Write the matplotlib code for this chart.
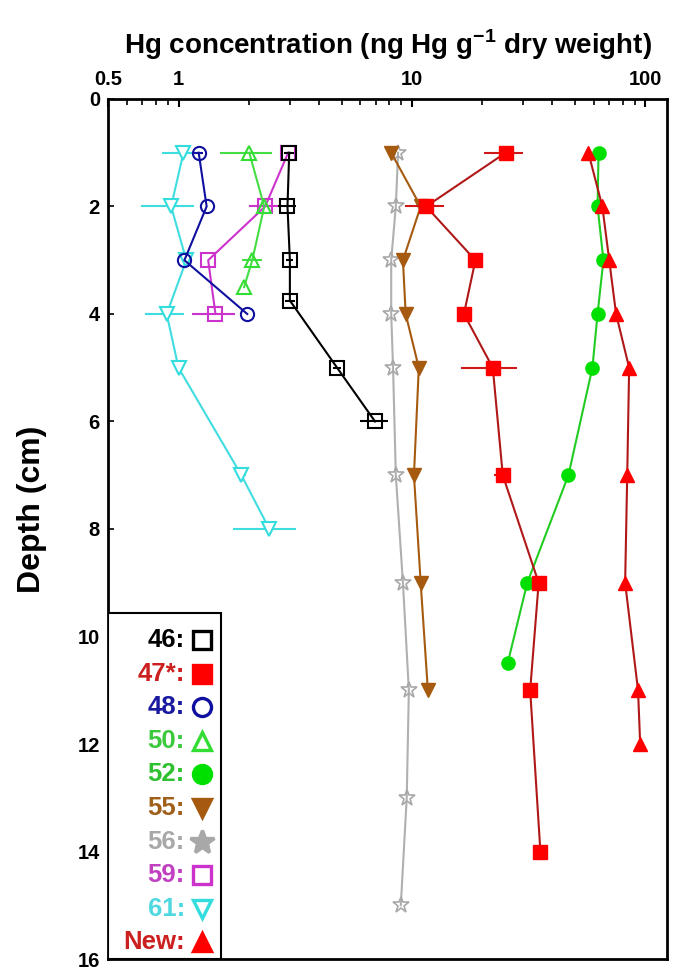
import numpy as np
import matplotlib
matplotlib.use("Agg")
import matplotlib.pyplot as plt
from matplotlib.patches import Rectangle
from matplotlib.ticker import FixedLocator, NullFormatter

plt.rcParams['font.family'] = ['Liberation Sans', 'DejaVu Sans']
plt.rcParams['font.weight'] = 'bold'
plt.rcParams['mathtext.fontset'] = 'custom'
plt.rcParams['mathtext.rm'] = 'Liberation Sans'
plt.rcParams['mathtext.bf'] = 'Liberation Sans:bold'

# core 46
d46 = [1, 2, 3, 3.75, 5, 6]
c46 = [2.98, 2.93, 3.0, 3.0, 4.78, 6.95]
e46 = [0.15, 0.25, 0.1, 0.15, 0.2, 0.95]
# core 47*
d47 = [1, 2, 3, 4, 5, 7, 9, 11, 14]
c47 = [25.2, 11.5, 18.7, 16.7, 22.2, 24.5, 34.9, 32.1, 35.5]
e47 = [4.8, 2.2, 0, 0, 6.0, 2.0, 0, 0, 0]
# core 48
d48 = [1, 2, 3, 4]
c48 = [1.22, 1.32, 1.06, 1.97]
e48 = [0.05, 0, 0, 0]
# core 50
d50 = [1, 2, 3, 3.5]
c50 = [2.01, 2.33, 2.07, 1.91]
e50 = [0.5, 0, 0.2, 0]
# core 52
d52 = [1, 2, 3, 4, 5, 7, 9, 10.5]
c52 = [63.0, 62.4, 66.1, 62.4, 59.3, 46.8, 31.2, 25.7]
# core 55
d55 = [1, 2, 3, 4, 5, 7, 9, 11]
c55 = [8.15, 10.9, 9.15, 9.4, 10.7, 10.2, 10.9, 11.7]
# core 56
d56 = [1, 2, 3, 4, 5, 7, 9, 11, 13, 15]
c56 = [8.72, 8.53, 8.15, 8.15, 8.3, 8.53, 9.15, 9.7, 9.5, 8.96]
# core 59
d59 = [1, 2, 3, 4]
c59 = [2.95, 2.35, 1.34, 1.44]
e59 = [0.05, 0.35, 0, 0.3]
# core 61
d61 = [1, 2, 3, 4, 5, 7, 8]
c61 = [1.05, 0.93, 1.08, 0.89, 1.0, 1.86, 2.45]
e61 = [0.2, 0.24, 0, 0.17, 0, 0.08, 0.73]
# new core
dnew = [1, 2, 3, 4, 5, 7, 9, 11, 12]
cnew = [57.0, 65.4, 70.0, 74.9, 85.2, 83.6, 81.9, 93.0, 95.0]

legend_labels = ['46:', '47*:', '48:', '50:', '52:', '55:', '56:', '59:', '61:', 'New:']
legend_text_colors = ['black', '#CC1F1F', '#1A1AA0', '#3CC83C', '#2EC02E',
                      '#A0601A', '#A8A8A8', '#C040C0', '#50D8E0', '#CC1F1F']
legend_markers = ['s', 's', 'o', '^', 'o', 'v', '*', 's', 'v', '^']
legend_face = ['none', '#FF0000', 'none', 'none', '#00E000', '#A65A10', '#A8A8A8',
               'none', 'none', '#FF0000']
legend_edge = ['black', '#FF0000', '#1010A0', '#33DD33', '#00E000', '#A65A10', '#A8A8A8',
               '#CC33CC', '#33DDDD', '#FF0000']

fig = plt.figure(figsize=(6.85, 9.76), dpi=100)
ax = fig.add_axes([0.158, 0.0174, 0.816, 0.8812])

ms = 9.5
ax.errorbar(c61, d61, xerr=e61, color='#40DDE0', marker='v', mfc='white', mec='#33DDDD',
            ms=ms, mew=1.5, lw=1.5, capsize=0, zorder=2)
ax.errorbar(c59, d59, xerr=e59, color='#CC33CC', marker='s', mfc='none', mec='#CC33CC',
            ms=ms, mew=1.5, lw=1.5, capsize=0, zorder=2)
ax.errorbar(c50, d50, xerr=e50, color='#44DD44', marker='^', mfc='none', mec='#33DD33',
            ms=ms, mew=1.5, lw=1.5, capsize=0, zorder=2)
ax.errorbar(c48, d48, xerr=e48, color='#1010A0', marker='o', mfc='none', mec='#1010A0',
            ms=ms, mew=1.5, lw=1.5, capsize=0, zorder=3)
ax.errorbar(c46, d46, xerr=e46, color='black', marker='s', mfc='none', mec='black',
            ms=ms, mew=1.5, lw=1.5, capsize=0, zorder=3)
ax.plot(c56, d56, color='#B0B0B0', marker='*', mfc='none', mec='#A8A8A8',
        ms=12, mew=1.2, lw=1.5, zorder=2)
ax.plot(c55, d55, color='#A65A10', marker='v', mfc='#A65A10', mec='#A65A10',
        ms=ms + 0.5, lw=1.5, zorder=3)
ax.errorbar(c47, d47, xerr=e47, color='#B01818', marker='s', mfc='#FF0000', mec='#FF0000',
            ms=ms + 1, lw=1.5, capsize=0, ecolor='#D01818', zorder=4)
ax.plot(c52, d52, color='#22CC22', marker='o', mfc='#00E000', mec='#00E000',
        ms=ms, lw=1.5, zorder=4)
ax.plot(cnew, dnew, color='#B01818', marker='^', mfc='#FF0000', mec='#FF0000',
        ms=ms + 1, lw=1.5, zorder=5)

ax.set_xscale('log')
ax.set_xlim(0.5, 124)
ax.set_ylim(16, 0)
ax.xaxis.set_ticks_position('top')
ax.xaxis.set_label_position('top')
ax.set_xticks([0.5, 1, 10, 100])
ax.set_xticklabels(['0.5', '1', '10', '100'])
minors = [v * m for m in (1, 10) for v in range(2, 10)] + [0.6, 0.7, 0.8, 0.9]
ax.xaxis.set_minor_locator(FixedLocator(minors))
ax.xaxis.set_minor_formatter(NullFormatter())
ax.set_yticks(np.arange(0, 17, 2))
ax.tick_params(axis='x', which='major', direction='in', length=6, width=1.5,
               labelsize=14.5, pad=7)
ax.tick_params(axis='x', which='minor', direction='in', length=4, width=1.2)
ax.tick_params(axis='y', direction='in', length=4, width=1.2, labelsize=14.5, pad=6)
for s in ax.spines.values():
    s.set_linewidth(2)
ax.set_xlabel('Hg concentration (ng Hg g$^{\\mathrm{-1}}$ dry weight)', fontsize=20,
              fontweight='bold', labelpad=12)
ax.set_ylabel('Depth (cm)', fontsize=23, fontweight='bold')
ax.yaxis.set_label_coords(-0.11, 0.523)

# legend box drawn by hand: labels right-aligned, markers on the right
ax.add_patch(Rectangle((0, 0), 0.202, 0.402, transform=ax.transAxes, fill=True,
                       facecolor='white', edgecolor='black', lw=1.5, zorder=10))
for i, lab in enumerate(legend_labels):
    yy = 1 - (640 + 33.6 * i - 99) / 860
    ax.text(0.137, yy, lab, transform=ax.transAxes, ha='right', va='center',
            fontsize=18.5, fontweight='bold', color=legend_text_colors[i], zorder=11)
    msz = 18 if legend_markers[i] == '*' else 13
    ax.plot([0.168], [yy], transform=ax.transAxes, marker=legend_markers[i],
            mfc=legend_face[i], mec=legend_edge[i], mew=2.4, ms=msz, ls='none',
            zorder=11, clip_on=False)

fig.savefig('out.png', dpi=100)
